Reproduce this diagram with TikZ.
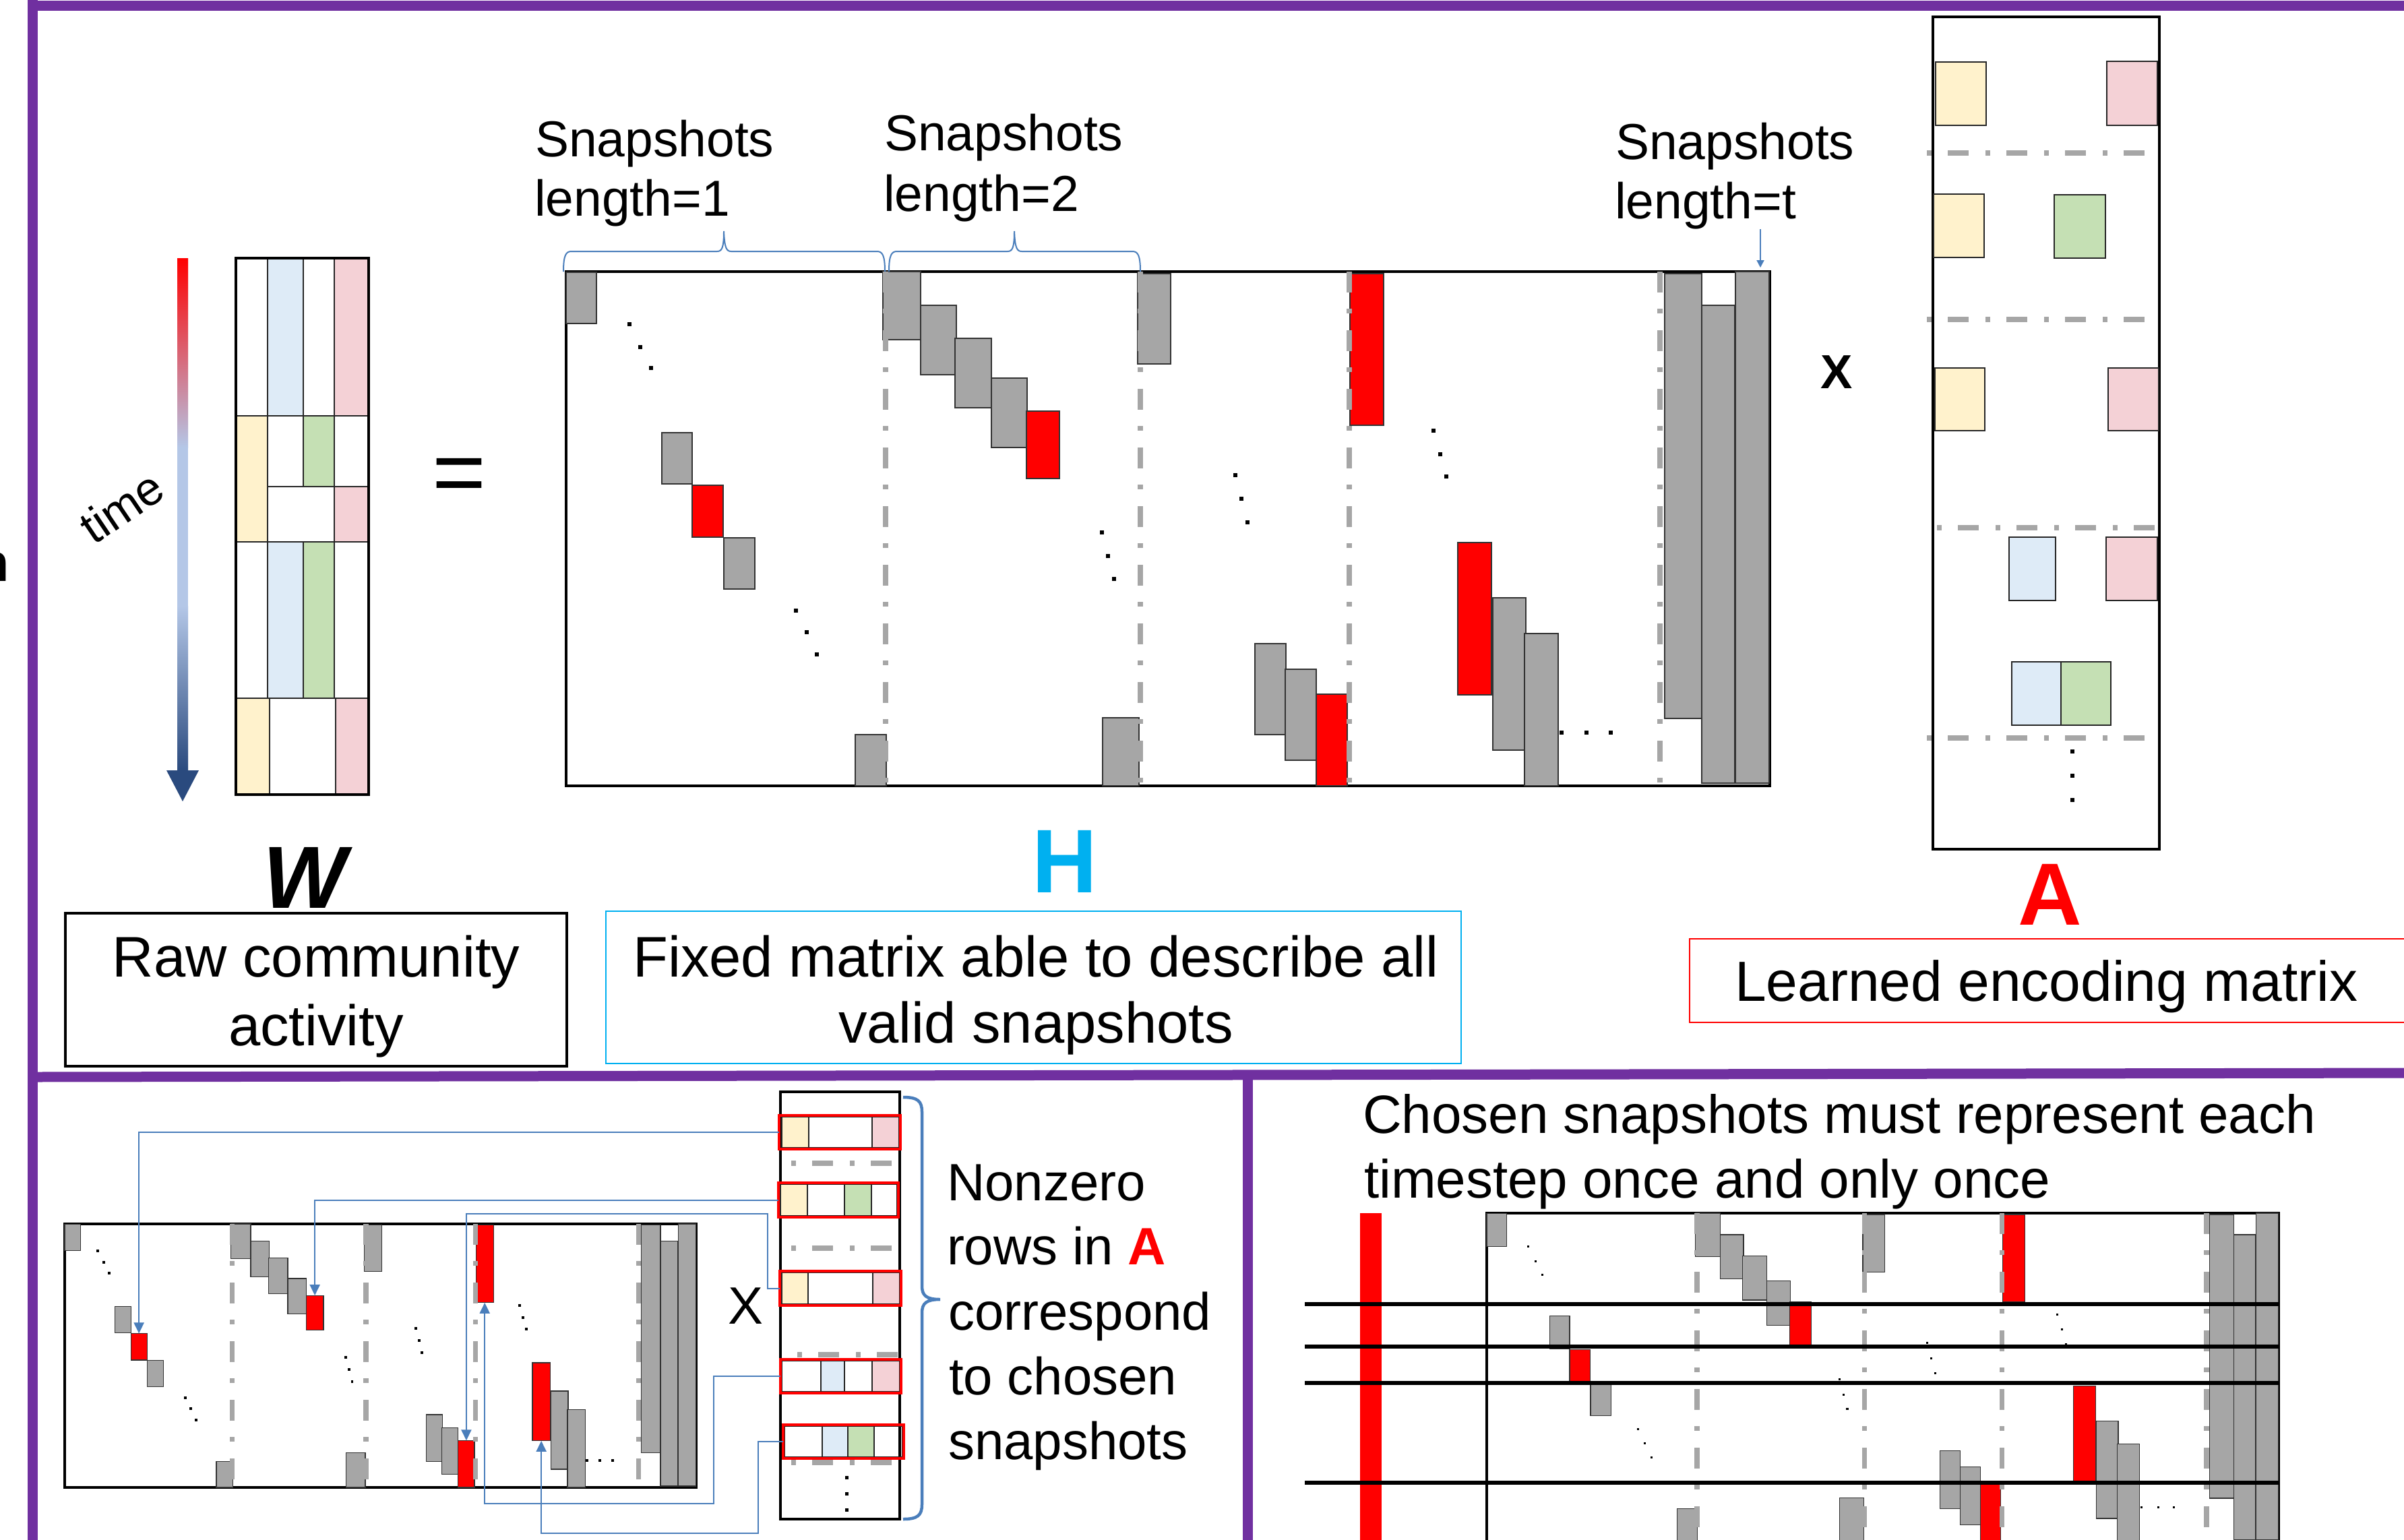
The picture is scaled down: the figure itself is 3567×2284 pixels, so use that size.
\documentclass[tikz,border=0pt]{standalone}
\usepackage{fontspec}
\setmainfont{Liberation Sans}
\usetikzlibrary{arrows.meta}
\definecolor{framec}{HTML}{7030A0}
\definecolor{hcyan}{HTML}{00B0F0}
\definecolor{gblk}{HTML}{A6A6A6}
\definecolor{cyel}{HTML}{FFF2CC}
\definecolor{cblu}{HTML}{DEEBF7}
\definecolor{cgrn}{HTML}{C5E0B4}
\definecolor{cpnk}{HTML}{F4D1D6}
\definecolor{bline}{HTML}{4A7EBB}
\definecolor{tlight}{HTML}{B4C7E7}
\definecolor{tdark}{HTML}{2A4A7E}
\tikzset{
  gb/.style={fill=gblk,draw=black!80,line width=1.2pt},
  rb/.style={fill=red,draw=black!80,line width=1.2pt},
  ddv/.style={draw=gblk,line width=7.5pt,dash pattern=on 31pt off 24pt on 7pt off 25pt},
  ddh/.style={draw=gblk,line width=7.5pt,dash pattern=on 7pt off 24pt on 31pt off 25pt},
  cell/.style={draw=black!85,line width=1.2pt},
  conn/.style={draw=bline,line width=2pt,-{Triangle[length=16pt,width=15pt]}},
  brc/.style={draw=bline,line width=2pt},
  frm/.style={draw=framec,line width=15pt},
  txt/.style={inner sep=0pt,outer sep=0pt},
  boxn/.style={inner sep=0pt,outer sep=0pt,anchor=north west},
  rrow/.style={draw=red,line width=4.5pt,inner sep=0pt,outer sep=0pt,anchor=north west,minimum height=50pt},
}
% H matrix content, coordinates relative to its top-left corner
\newcommand\Hmat[3]{%
  \draw[line width=4pt] (0,0) rectangle (1786,763);
  \foreach \xa/\ya/\xb/\yb in {0/1/45/77,142/239/187/315,234/395/280/471,429/687/475/763,
    470/0/526/101,526/50/579/153,577/99/631/202,631/158/684/261,848/3/897/137,796/662/850/763,
    1022/552/1068/687,1067/590/1113/725,1375/484/1424/710,1422/537/1472/763,
    1630/3/1685/663,1685/50/1734/759,1735/0/1785/759}
    {\draw[gb] (\xa,\ya) rectangle (\xb,\yb);}
  \foreach \xa/\ya/\xb/\yb in {187/317/233/394,683/207/732/307,1113/627/1159/763,1323/402/1373/628}
    {\draw[rb] (\xa,\ya) rectangle (\xb,\yb);}
  \draw[rb] (1163,3) rectangle (1213,#2);
  \foreach \xx in {474,852,1162,1623} {\draw[ddv] (\xx,0) -- (\xx,763);}
  \foreach \xx/\yy in {94/78,110/112,126/143,341/503,357/535,372/568,795/387,804/422,813/456,
    993/302,1002/337,1011/372,1287/236,1297/271,1306/304,1477/684,1514/684,1550/684}
    {\fill (\xx-#3,\yy-#3) rectangle (\xx+#3,\yy+#3);}
  \coordinate (#1r1) at (210,317);
  \coordinate (#1r2) at (707.5,207);
  \coordinate (#1r3) at (1188,#2);
  \coordinate (#1r4) at (1136,627);
  \coordinate (#1r5) at (1348,628);
  \coordinate (#1t) at (1772,-6);
}
\begin{document}
\begin{tikzpicture}[x=1pt,y=-1pt]
\useasboundingbox (0,0) rectangle (3567,2284);
\fill[white] (0,0) rectangle (3567,2284);

% ---------- frame ----------
\draw[frm] (41,8.5) -- (3580,8.5);
\draw[frm] (48.5,0) -- (48.5,2300);
\draw[frm] (48,1598) -- (3580,1592);
\draw[frm] (1851,1596) -- (1851,2300);
\node[txt,anchor=base east,font=\bfseries\fontsize{79pt}{79pt}\selectfont] (ncut) at (14,862) {n};

% ---------- time arrow ----------
\shade[top color=red,bottom color=tlight] (263,383) rectangle (279,664);
\fill[tlight] (263,663) rectangle (279,900);
\shade[top color=tlight,bottom color=tdark] (263,899) rectangle (279,1144);
\fill[tdark] (247,1143) -- (295,1143) -- (271,1189) -- cycle;
\node[txt,rotate=34,font=\fontsize{70pt}{70pt}\selectfont] (timelbl) at (180,752) {time};

% ---------- W matrix ----------
\draw[cell] (350,383) rectangle (397,617);
\draw[cell,fill=cblu] (397,383) rectangle (450,617);
\draw[cell] (450,383) rectangle (496,617);
\draw[cell,fill=cpnk] (496,383) rectangle (547,617);
\draw[cell,fill=cyel] (350,617) rectangle (397,804);
\draw[cell] (397,617) rectangle (450,722);
\draw[cell,fill=cgrn] (450,617) rectangle (496,722);
\draw[cell] (496,617) rectangle (547,722);
\draw[cell] (397,722) rectangle (496,804);
\draw[cell,fill=cpnk] (496,722) rectangle (547,804);
\draw[cell] (350,804) rectangle (397,1036);
\draw[cell,fill=cblu] (397,804) rectangle (450,1036);
\draw[cell,fill=cgrn] (450,804) rectangle (496,1036);
\draw[cell] (496,804) rectangle (547,1036);
\draw[cell,fill=cyel] (350,1036) rectangle (400,1179);
\draw[cell] (400,1036) rectangle (498,1179);
\draw[cell,fill=cpnk] (498,1036) rectangle (547,1179);
\draw[line width=4pt] (350,383) rectangle (547,1179);
\node[txt,anchor=base,font=\bfseries\itshape\fontsize{131pt}{131pt}\selectfont] (wlbl) at (452,1347) {W};

\node[txt,anchor=center,font=\fontsize{137pt}{137pt}\selectfont] (eqs) at (681,714) {=};

% ---------- big H ----------
\begin{scope}[shift={(840,403)}]
  \Hmat{bH}{228}{2.6}
\end{scope}
\node[txt,anchor=base,font=\bfseries\fontsize{134pt}{134pt}\selectfont,text=hcyan] (hlbl) at (1580,1324) {H};

\node[txt,anchor=base west,font=\fontsize{75pt}{75pt}\selectfont] (s1a) at (794,232) {Snapshots};
\node[txt,anchor=base west,font=\fontsize{75pt}{75pt}\selectfont] (s1b) at (793,320) {length=1};
\node[txt,anchor=base west,font=\fontsize{75pt}{75pt}\selectfont] (s2a) at (1312,223) {Snapshots};
\node[txt,anchor=base west,font=\fontsize{75pt}{75pt}\selectfont] (s2b) at (1311,313) {length=2};
\node[txt,anchor=base west,font=\fontsize{75pt}{75pt}\selectfont] (s3a) at (2397,236) {Snapshots};
\node[txt,anchor=base west,font=\fontsize{75pt}{75pt}\selectfont] (s3b) at (2396,324) {length=t};

\draw[brc] (836,403) .. controls (836,378) and (840,373) .. (848,373) -- (1064,373)
  .. controls (1071,373) and (1074,368) .. (1074,343) .. controls (1075,368) and (1078,373) .. (1085,373)
  -- (1301,373) .. controls (1309,373) and (1313,378) .. (1313,403);
\draw[brc] (1319,403) .. controls (1319,378) and (1323,373) .. (1331,373) -- (1495,373)
  .. controls (1502,373) and (1505,368) .. (1505,343) .. controls (1506,368) and (1509,373) .. (1516,373)
  -- (1680,373) .. controls (1688,373) and (1692,378) .. (1692,403);
\draw[brc,-{Triangle[length=11pt,width=11pt]}] (s3b.south -| bHt) -- (bHt);

\node[txt,anchor=base,font=\bfseries\fontsize{71pt}{71pt}\selectfont] (xtop) at (2725,576) {X};

% ---------- big A ----------
\draw[line width=4.5pt] (2868,25) rectangle (3204,1260);
\draw[cell,fill=cyel] (2872,92) rectangle (2947,186);
\draw[cell,fill=cpnk] (3126,91) rectangle (3201,186);
\draw[cell,fill=cyel] (2869,288) rectangle (2944,382);
\draw[cell,fill=cgrn] (3048,289) rectangle (3124,383);
\draw[cell,fill=cyel] (2871,546) rectangle (2945,639);
\draw[cell,fill=cpnk] (3128,546) rectangle (3203,639);
\draw[cell,fill=cblu] (2981,797) rectangle (3050,891);
\draw[cell,fill=cpnk] (3125,797) rectangle (3201,891);
\draw[cell,fill=cblu] (2985,982) rectangle (3058,1076);
\draw[cell,fill=cgrn] (3058,982) rectangle (3132,1076);
\draw[ddh] (2859,227) -- (3186,227);
\draw[ddh] (2859,474) -- (3186,474);
\draw[ddh] (2874,783) -- (3204,783);
\draw[ddh] (2859,1095) -- (3186,1095);
\foreach \yy in {1115,1151,1187} {\fill (3072,\yy-3) rectangle (3078,\yy+3);}
\node[txt,anchor=base,font=\bfseries\fontsize{131pt}{131pt}\selectfont,text=red] (albl) at (3042,1372) {A};

% ---------- caption boxes ----------
\node[boxn,draw,line width=4pt,minimum width=744pt,minimum height=227pt] (rawbox) at (97,1355) {};
\node[txt,anchor=base,font=\fontsize{85pt}{85pt}\selectfont] (raw1) at (469,1449) {Raw community};
\node[txt,anchor=base,font=\fontsize{85pt}{85pt}\selectfont] (raw2) at (469,1551) {activity};
\node[boxn,draw=hcyan,line width=2pt,minimum width=1269pt,minimum height=226pt] (fixbox) at (899,1352) {};
\node[txt,anchor=base,font=\fontsize{85pt}{85pt}\selectfont] (fix1) at (1537,1449) {Fixed matrix able to describe all};
\node[txt,anchor=base,font=\fontsize{85pt}{85pt}\selectfont] (fix2) at (1537,1547) {valid snapshots};
\node[boxn,draw=red,line width=2pt,minimum width=1120pt,minimum height=124pt] (lrnbox) at (2507,1393) {};
\node[txt,anchor=base west,font=\fontsize{84pt}{84pt}\selectfont] (lrn) at (2574,1485) {Learned encoding matrix};

% ---------- bottom-left panel ----------
\begin{scope}[shift={(96,1816)},xscale=0.5246,yscale=0.5125]
  \Hmat{sH}{228}{3.8}
\end{scope}
\node[txt,anchor=base,font=\fontsize{78pt}{78pt}\selectfont] (xbot) at (1106,1964) {X};

\draw[line width=4.5pt] (1158,1620) rectangle (1335,2254);
\draw[ddh] (1174,1726) -- (1330,1726);
\draw[ddh] (1174,1852) -- (1330,1852);
\draw[ddh] (1183,2010) -- (1334,2010);
\draw[ddh] (1174,2170) -- (1330,2170);
% row 1
\draw[cell,fill=cyel] (1160,1657) rectangle (1200,1703);
\draw[cell] (1200,1657) rectangle (1294,1703);
\draw[cell,fill=cpnk] (1294,1657) rectangle (1334,1703);
% row 2
\draw[cell,fill=cyel] (1158,1757) rectangle (1198,1804);
\draw[cell] (1198,1757) rectangle (1253,1804);
\draw[cell,fill=cgrn] (1253,1757) rectangle (1293,1804);
\draw[cell] (1293,1757) rectangle (1331,1804);
% row 3
\draw[cell,fill=cyel] (1160,1888) rectangle (1199,1935);
\draw[cell] (1199,1888) rectangle (1295,1935);
\draw[cell,fill=cpnk] (1295,1888) rectangle (1335,1935);
% row 4
\draw[cell] (1160,2019) rectangle (1218,2065);
\draw[cell,fill=cblu] (1218,2019) rectangle (1253,2065);
\draw[cell] (1253,2019) rectangle (1294,2065);
\draw[cell,fill=cpnk] (1294,2019) rectangle (1335,2065);
% row 5
\draw[cell] (1164,2116) rectangle (1220,2162);
\draw[cell,fill=cblu] (1220,2116) rectangle (1258,2162);
\draw[cell,fill=cgrn] (1258,2116) rectangle (1297,2162);
\draw[cell] (1297,2116) rectangle (1339,2162);
\node[rrow,minimum width=180pt] (arow1) at (1156,1655) {};
\node[rrow,minimum width=178pt,minimum height=51pt] (arow2) at (1155,1755) {};
\node[rrow,minimum width=180pt,minimum height=51pt] (arow3) at (1157,1886) {};
\node[rrow,minimum width=179pt] (arow4) at (1158,2017) {};
\node[rrow,minimum width=179pt] (arow5) at (1162,2114) {};
\foreach \yy in {2192,2216,2240} {\fill (1253.5,\yy-2.5) rectangle (1258.5,\yy+2.5);}

\draw[brc,line width=4.5pt] (1340,1628) .. controls (1362,1628) and (1368,1634) .. (1368,1650) -- (1368,1908)
  .. controls (1368,1922) and (1374,1928) .. (1395,1928) .. controls (1374,1928) and (1368,1934) .. (1368,1948)
  -- (1368,2232) .. controls (1368,2248) and (1362,2254) .. (1340,2254);

\draw[conn] (arow1.west) -| (sHr1);
\draw[conn] (arow2.west) -| (sHr2);
\draw[conn] (arow3.west) -| ++(-18,-111) -| (sHr4);
\draw[conn] (arow4.west) -| ++(-99,189) -| (sHr3);
\draw[conn] (arow5.west) -| ++(-37,136) -| (sHr5);

\node[txt,anchor=base west,font=\fontsize{78pt}{78pt}\selectfont] (nz1) at (1405,1781) {Nonzero};
\node[txt,anchor=base west,font=\fontsize{78pt}{78pt}\selectfont] (nz2) at (1405,1876) {rows in \textcolor{red}{\bfseries A}};
\node[txt,anchor=base west,font=\fontsize{78pt}{78pt}\selectfont] (nz3) at (1407,1973) {correspond};
\node[txt,anchor=base west,font=\fontsize{78pt}{78pt}\selectfont] (nz4) at (1408,2069) {to chosen};
\node[txt,anchor=base west,font=\fontsize{78pt}{78pt}\selectfont] (nz5) at (1407,2165) {snapshots};

% ---------- bottom-right panel ----------
\node[txt,anchor=base west,font=\fontsize{80pt}{80pt}\selectfont] (ch1) at (2022,1681) {Chosen snapshots must represent each};
\node[txt,anchor=base west,font=\fontsize{80pt}{80pt}\selectfont] (ch2) at (2024,1777) {timestep once and only once};
\fill[red] (2018,1800) rectangle (2050,2300);
\begin{scope}[shift={(2206,1800)},xscale=0.658,yscale=0.638]
  \Hmat{rH}{207}{2.3}
\end{scope}
\foreach \yy in {1935,1998,2052,2200} {\draw[line width=6.5pt] (1936,\yy) -- (3383,\yy);}
\end{tikzpicture}
\end{document}
